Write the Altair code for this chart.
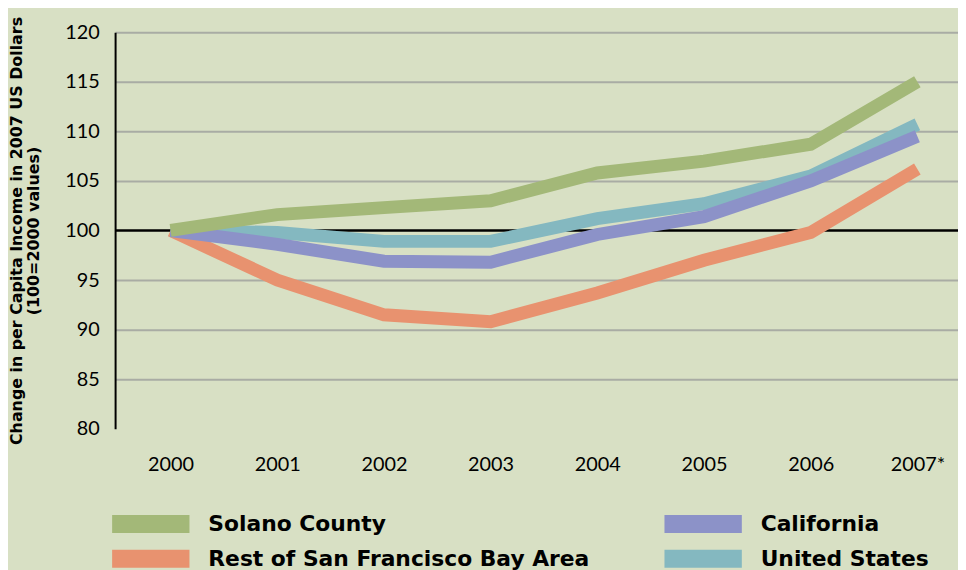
import altair as alt
import pandas as pd

years = [2000, 2001, 2002, 2003, 2004, 2005, 2006, 2007]
year_labels = ["2000", "2001", "2002", "2003", "2004", "2005", "2006", "2007*"]

solano = [100.0, 101.6, 102.3, 103.0, 105.8, 107.0, 108.7, 115.0]
rest_bay = [100.0, 95.0, 91.5, 90.8, 93.7, 97.0, 99.8, 106.2]
california = [100.0, 98.6, 96.9, 96.8, 99.6, 101.4, 105.0, 109.5]
united_states = [100.0, 99.8, 98.9, 98.9, 101.2, 102.7, 105.5, 110.7]

series_names = ["Rest of San Francisco Bay Area", "United States", "California", "Solano County"]
series_values = [rest_bay, united_states, california, solano]

# legend fills column by column
legend_order = ["Solano County", "Rest of San Francisco Bay Area", "California", "United States"]
legend_colors = ["#a3b878", "#e8926f", "#8c92c8", "#84b8c0"]

y_ticks = [80, 85, 90, 95, 100, 105, 110, 115, 120]

rows = []
for name, vals in zip(series_names, series_values):
    for yr, v in zip(years, vals):
        rows.append({"Year": yr, "Value": v, "Series": name})
df = pd.DataFrame(rows)

label_map = "{" + ", ".join(f"'{y}': '{l}'" for y, l in zip(years, year_labels)) + "}"
label_expr = f"{label_map}[datum.value + '']"

x_enc = alt.X(
    "Year:Q",
    scale=alt.Scale(domain=[1999.48, 2007.381], nice=False, zero=False),
    axis=alt.Axis(
        values=years, labelExpr=label_expr, title=None, domain=False, ticks=False,
        grid=False, labelFont="Lato", labelFontSize=20, labelColor="black",
        labelPadding=26, labelBaseline="top", labelFlush=False,
    ),
)
y_enc = alt.Y(
    "Value:Q",
    scale=alt.Scale(domain=[80, 120], nice=False, zero=False),
    axis=alt.Axis(
        values=y_ticks,
        title=["Change in per Capita Income in 2007 US Dollars", "(100=2000 values)"],
        titleFont="DejaVu Sans", titleFontSize=16, titleFontWeight="bold",
        titleColor="black", titleAngle=-90, titleX=-107, titleY=200,
        titleAlign="center", titleBaseline="top", titleLineHeight=17,
        labelFont="Lato", labelFontSize=20, labelColor="black", labelPadding=16,
        ticks=False, domain=True, domainColor="black", domainWidth=2,
        grid=True,
        gridColor={"condition": {"test": "datum.value == 80 || datum.value == 100", "value": "transparent"}, "value": "#a9aca4"},
        gridWidth=2,
    ),
)

lines = alt.Chart(df).mark_line(strokeWidth=13, strokeCap="butt", strokeJoin="miter").encode(
    x=x_enc,
    y=y_enc,
    color=alt.Color(
        "Series:N",
        scale=alt.Scale(domain=legend_order, range=legend_colors),
        legend=alt.Legend(
            orient="none", legendX=-12, legendY=483, title=None, columns=2,
            columnPadding=66, rowPadding=9, clipHeight=26,
            symbolType="stroke", symbolSize=6084,
            symbolStrokeWidth=18, labelFont="DejaVu Sans", labelFontSize=22,
            labelFontWeight="bold", labelColor="black", labelOffset=10, labelLimit=0,
            symbolOpacity=1,
        ),
    ),
    detail="Series:N",
)

base_rule = alt.Chart(pd.DataFrame({"Value": [100]})).mark_rule(color="black", strokeWidth=2.5).encode(
    y=alt.Y("Value:Q", scale=alt.Scale(domain=[80, 120], nice=False, zero=False))
)

chart = alt.layer(base_rule, lines).properties(
    width=850, height=400,
    autosize=alt.AutoSizeParams(type="none"),
    padding={"left": 108, "top": 22, "right": 0, "bottom": 140},
    background="#d8e0c4",
).configure_view(stroke=None)

chart.save("out.html", embed_options={"renderer": "svg", "actions": False})
